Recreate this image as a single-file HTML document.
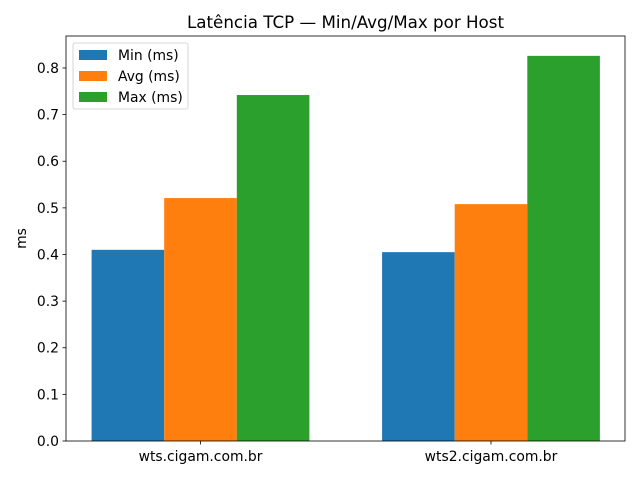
<!DOCTYPE html>
<html><head><meta charset="utf-8"><style>
html,body{margin:0;padding:0;background:#fff;}
svg text{font-family:"DejaVu Sans","Liberation Sans",sans-serif;}
</style></head><body>
<svg id="chart" width="640" height="480" xmlns="http://www.w3.org/2000/svg">
<rect width="640" height="480" fill="#fff"/>
<text x="345.5" y="28" font-size="16.7" text-anchor="middle" fill="#000">Latência TCP — Min/Avg/Max por Host</text>
<g id="bars"></g>
<g id="axes"></g>
</svg>
<script>
const categories = ["wts.cigam.com.br", "wts2.cigam.com.br"];
const seriesNames = ["Min (ms)", "Avg (ms)", "Max (ms)"];
const minVals = [0.410, 0.405];
const avgVals = [0.521, 0.508];
const maxVals = [0.742, 0.826];
const yTicks = [0, 0.1, 0.2, 0.3, 0.4, 0.5, 0.6, 0.7, 0.8];
const yTickLabels = ["0.0","0.1","0.2","0.3","0.4","0.5","0.6","0.7","0.8"];

const NS = "http://www.w3.org/2000/svg";
const L=66, R=625, T=36, B=441, yMax=0.8686;
const colors=["#1f77b4","#ff7f0e","#2ca02c"];
const series=[minVals,avgVals,maxVals];
function y(v){return B-(v/yMax)*(B-T);}
function xc(i){return 200.5+i*290.5;}
const bw=72.6;
function mk(tag,attrs,parent){const e=document.createElementNS(NS,tag);for(const k in attrs)e.setAttribute(k,attrs[k]);parent.appendChild(e);return e;}
const bars=document.getElementById('bars'), axes=document.getElementById('axes');
series.forEach((vals,s)=>{
  vals.forEach((v,i)=>{
    const x=xc(i)+(s-1.5)*bw;
    const r=mk('rect',{x:x,y:y(v),width:bw,height:B-y(v),fill:colors[s]},bars);
    
    
  });
});
const frame=mk('rect',{x:L,y:T,width:R-L,height:B-T,fill:'none',stroke:'#000','stroke-width':0.8},axes);


yTicks.forEach((t,i)=>{
  const yy=y(t);
  mk('line',{x1:L-3.5,x2:L,y1:yy,y2:yy,stroke:'#000','stroke-width':0.8},axes);
  const tx=mk('text',{x:L-7,y:yy+5,'font-size':13.9,'text-anchor':'end',fill:'#000'},axes);
  tx.textContent=yTickLabels[i];
  
  
});
categories.forEach((c,i)=>{
  const xx=xc(i);
  mk('line',{x1:xx,x2:xx,y1:B,y2:B+3.5,stroke:'#000','stroke-width':0.8},axes);
  const tx=mk('text',{x:xx,y:B+20,'font-size':13.9,'text-anchor':'middle',fill:'#000'},axes);
  tx.textContent=c;
  
  
});
const yt=mk('text',{x:0,y:0,'font-size':13.9,'text-anchor':'middle',fill:'#000',transform:'translate(26,'+((T+B)/2)+') rotate(-90)'},axes);
yt.textContent='ms';


const lg=mk('g',{},axes);


mk('rect',{x:73,y:43,width:115,height:66,rx:2,fill:'#fff','fill-opacity':0.8,stroke:'#ccc','stroke-width':0.8},lg);
seriesNames.forEach((n,s)=>{
  const yy=50+s*21;
  mk('rect',{x:79,y:yy,width:28,height:10,fill:colors[s]},lg);
  const tx=mk('text',{x:118,y:yy+10,'font-size':13.9,fill:'#000'},lg);
  tx.textContent=n;
  
  
});
</script>
</body></html>
